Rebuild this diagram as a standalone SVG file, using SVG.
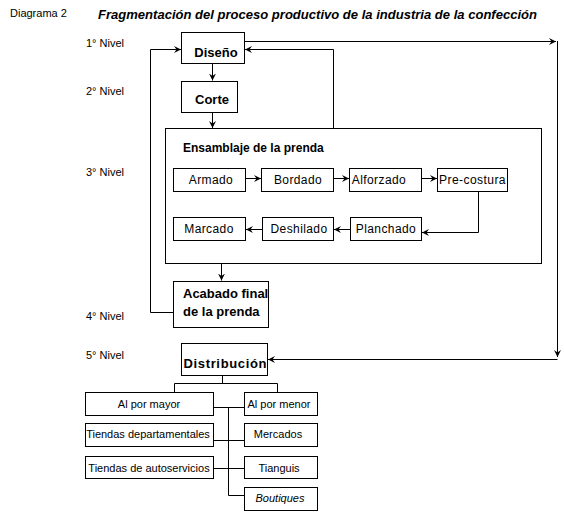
<svg xmlns="http://www.w3.org/2000/svg" width="564" height="513" viewBox="0 0 564 513">
<defs>
<style>
.b{fill:#fff;stroke:#000;stroke-width:1}
.c{fill:none;stroke:#000;stroke-width:1}
text{font-family:"Liberation Sans",Arial,sans-serif;fill:#000}
.lv{font-size:11px}
.n12{font-size:12px;text-anchor:middle;letter-spacing:0.4px}
.n11{font-size:11px;text-anchor:middle}
.bd{font-size:13px;font-weight:bold}
</style>
<marker id="ah" markerWidth="8" markerHeight="8" refX="7" refY="4" orient="auto" markerUnits="userSpaceOnUse"><path d="M0,0.5 L7,4 L0,7.5 L2.5,4 z" fill="#000"/></marker>
</defs>
<rect width="564" height="513" fill="#fff"/>
<text class="lv" x="10" y="17">Diagrama 2</text>
<text x="98" y="19" font-size="13" font-weight="bold" font-style="italic" textLength="439" lengthAdjust="spacingAndGlyphs">Fragmentación del proceso productivo de la industria de la confección</text>
<text class="lv" x="86" y="47">1° Nivel</text>
<text class="lv" x="86" y="95">2° Nivel</text>
<text class="lv" x="86" y="176">3° Nivel</text>
<text class="lv" x="86" y="320">4° Nivel</text>
<text class="lv" x="86" y="359">5° Nivel</text>

<g id="diseno"><rect class="b" x="181.5" y="32.5" width="63" height="31"/><text class="bd" x="216" y="57" text-anchor="middle">Diseño</text></g>
<g id="corte"><rect class="b" x="181.5" y="81.5" width="56" height="31"/><text class="bd" x="212" y="104" text-anchor="middle">Corte</text></g>
<g id="ensamblaje"><rect class="b" x="165.5" y="128.5" width="376" height="135"/><text x="183" y="152" font-size="12" font-weight="bold">Ensamblaje de la prenda</text></g>
<g id="armado"><rect class="b" x="173.5" y="168.5" width="72" height="23"/><text class="n12" x="211" y="184">Armado</text></g>
<g id="bordado"><rect class="b" x="261.5" y="168.5" width="72" height="23"/><text class="n12" x="298" y="184">Bordado</text></g>
<g id="alforzado"><rect class="b" x="349.5" y="168.5" width="72" height="23"/><text class="n12" x="379" y="184">Alforzado</text></g>
<g id="precostura"><rect class="b" x="437.5" y="168.5" width="70" height="23"/><text class="n12" x="472.5" y="184" textLength="67" lengthAdjust="spacingAndGlyphs">Pre-costura</text></g>
<g id="marcado"><rect class="b" x="173.5" y="217.5" width="72" height="23"/><text class="n12" x="209" y="233">Marcado</text></g>
<g id="deshilado"><rect class="b" x="262.5" y="217.5" width="71" height="23"/><text class="n12" x="299" y="233">Deshilado</text></g>
<g id="planchado"><rect class="b" x="350.5" y="217.5" width="71" height="23"/><text class="n12" x="386" y="233">Planchado</text></g>
<g id="acabado"><rect class="b" x="173.5" y="281.5" width="95" height="46"/><text class="bd" x="183" y="298">Acabado final</text><text class="bd" x="183" y="316">de la prenda</text></g>
<g id="distribucion"><rect class="b" x="181.5" y="343.5" width="86" height="32"/><text class="bd" x="225" y="368" text-anchor="middle" textLength="83" lengthAdjust="spacing">Distribución</text></g>
<g id="mayor"><rect class="b" x="85.5" y="392.5" width="128" height="23"/><text class="n11" x="149" y="408">Al por mayor</text></g>
<g id="menor"><rect class="b" x="244.5" y="392.5" width="73" height="23"/><text class="n11" x="279" y="408">Al por menor</text></g>
<g id="departamentales"><rect class="b" x="85.5" y="423.5" width="128" height="23"/><text class="n11" x="148" y="438">Tiendas departamentales</text></g>
<g id="mercados"><rect class="b" x="244.5" y="423.5" width="73" height="23"/><text class="n11" x="278" y="438">Mercados</text></g>
<g id="autoservicios"><rect class="b" x="85.5" y="456.5" width="128" height="22"/><text class="n11" x="149" y="472">Tiendas de autoservicios</text></g>
<g id="tianguis"><rect class="b" x="244.5" y="456.5" width="73" height="22"/><text class="n11" x="279" y="472">Tianguis</text></g>
<g id="boutiques"><rect class="b" x="244.5" y="487.5" width="73" height="23"/><text class="n11" x="280" y="502" font-style="italic">Boutiques</text></g>

<g id="connectors">
<path class="c" d="M212.5,63.5 V80.5" marker-end="url(#ah)"/>
<path class="c" d="M212.5,112.5 V128" marker-end="url(#ah)"/>
<path class="c" d="M221.5,263.5 V280.5" marker-end="url(#ah)"/>
<path class="c" d="M173,312.5 H150.5 V49.5 H181" marker-end="url(#ah)"/>
<path class="c" d="M333.5,128 V49.5 H245" marker-end="url(#ah)"/>
<path class="c" d="M245,41.5 H556" marker-end="url(#ah)"/>
<path class="c" d="M557.5,41 V357" marker-end="url(#ah)"/>
<path class="c" d="M557.5,359.5 H268" marker-end="url(#ah)"/>
<path class="c" d="M246,178.5 H261" marker-end="url(#ah)"/>
<path class="c" d="M334,178.5 H349" marker-end="url(#ah)"/>
<path class="c" d="M422,178.5 H437" marker-end="url(#ah)"/>
<path class="c" d="M478.5,192 V232.5 H422" marker-end="url(#ah)"/>
<path class="c" d="M350,229.5 H334" marker-end="url(#ah)"/>
<path class="c" d="M262,229.5 H246" marker-end="url(#ah)"/>
<path class="c" d="M222.5,376 V383.5 M174.5,392 V383.5 H277.5 V392"/>
<path class="c" d="M214,407.5 H244 M228.5,407.5 V495.5 H244 M214,440.5 H244 M214,468.5 H244"/>
</g>
</svg>
